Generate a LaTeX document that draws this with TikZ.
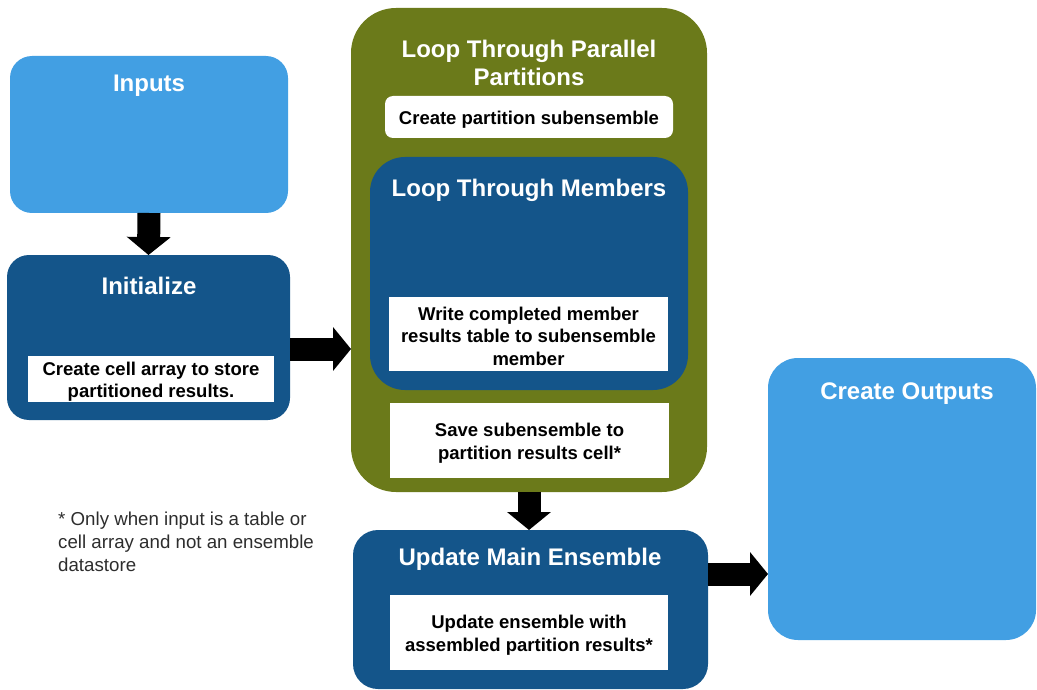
\documentclass[tikz,border=0pt]{standalone}
\usepackage{fontspec}
\setmainfont{Liberation Sans}
\usetikzlibrary{arrows.meta,calc}
\definecolor{lblue}{RGB}{66,159,227}
\definecolor{dblue}{RGB}{20,85,138}
\definecolor{olive}{RGB}{107,122,26}
\definecolor{fgray}{RGB}{45,45,45}
\tikzset{
  box/.style={draw=none, inner sep=0pt, outer sep=0pt},
  wbox/.style={box, fill=white},
  wtxt/.style={inner sep=0pt, align=center, text=black,
     font=\bfseries\fontsize{18.5}{22.5}\selectfont},
  ttl/.style={inner sep=0pt, text=white, align=center,
     font=\bfseries\fontsize{24}{28}\selectfont},
  blockarrow/.style={line width=23pt, -{Triangle[length=18pt,width=43pt]}, black},
}
\begin{document}
\begin{tikzpicture}[x=1pt,y=-1pt]
\useasboundingbox (0,0) rectangle (1037,690);
% Inputs
\node[box, fill=lblue, rounded corners=22pt, minimum width=278pt, minimum height=157pt] (inputs) at (149,134.5) {};
\node[ttl] (inputsT) at (149,86) {Inputs};
% Initialize
\node[box, fill=dblue, rounded corners=22pt, minimum width=283pt, minimum height=165pt] (init) at (148.5,337.5) {};
\node[ttl] (initT) at (149,285.5) {Initialize};
\node[wbox, minimum width=246pt, minimum height=46pt] (initbox) at (151,379) {};
\node[wtxt] (initboxT) at ([yshift=-2.5pt]initbox.center) {Create cell array to store\\partitioned results.};
% Loop through parallel partitions
\node[box, fill=olive, rounded corners=45pt, minimum width=356pt, minimum height=484pt] (outer) at (529,250) {};
\node[ttl] (outerT) at (529,62.5) {Loop Through Parallel\\Partitions};
\node[wbox, rounded corners=8pt, minimum width=288pt, minimum height=42pt] (partbox) at (529,117) {};
\node[wtxt] (partboxT) at ([yshift=-2.5pt]partbox.center) {Create partition subensemble};
\node[box, fill=dblue, rounded corners=35pt, minimum width=318pt, minimum height=233pt] (members) at (529,273.5) {};
\node[ttl] (membersT) at (529,190.5) {Loop Through Members};
\node[wbox, minimum width=279pt, minimum height=74pt] (writebox) at (528.5,334) {};
\node[wtxt] (writeboxT) at ([yshift=-2pt]writebox.center) {Write completed member\\results table to subensemble\\member};
\node[wbox, minimum width=279pt, minimum height=75pt] (savebox) at (529.5,440.5) {};
\node[wtxt] (saveboxT) at ([yshift=-2.5pt]savebox.center) {Save subensemble to\\partition results cell*};
% Update main ensemble
\node[box, fill=dblue, rounded corners=25pt, minimum width=355pt, minimum height=159pt] (update) at (530.5,609.5) {};
\node[ttl] (updateT) at (530,559.5) {Update Main Ensemble};
\node[wbox, minimum width=278pt, minimum height=75pt] (updbox) at (529,632.5) {};
\node[wtxt] (updboxT) at ([yshift=-2.5pt]updbox.center) {Update ensemble with\\assembled partition results*};
% Create outputs
\node[box, fill=lblue, rounded corners=30pt, minimum width=268pt, minimum height=282pt] (outputs) at (902,499) {};
\node[ttl] (outputsT) at (907,393.5) {Create Outputs};
% Footnote
\node[inner sep=0pt, anchor=north west, align=left, text=fgray, font=\fontsize{18.7}{23}\selectfont] (note) at (58,512) {* Only when input is a table or\\cell array and not an ensemble\\datastore};
% Arrows
\draw[blockarrow] (inputs.south) -- (init.north);
\draw[blockarrow] ([yshift=-11.5pt]init.east) -- ([yshift=-11.5pt]init.east -| outer.west);
\draw[blockarrow] (outer.south) -- (outer.south |- update.north);
\draw[blockarrow] ([yshift=35.5pt]update.east) -- ([yshift=35.5pt]update.east -| outputs.west);
\end{tikzpicture}
\end{document}
